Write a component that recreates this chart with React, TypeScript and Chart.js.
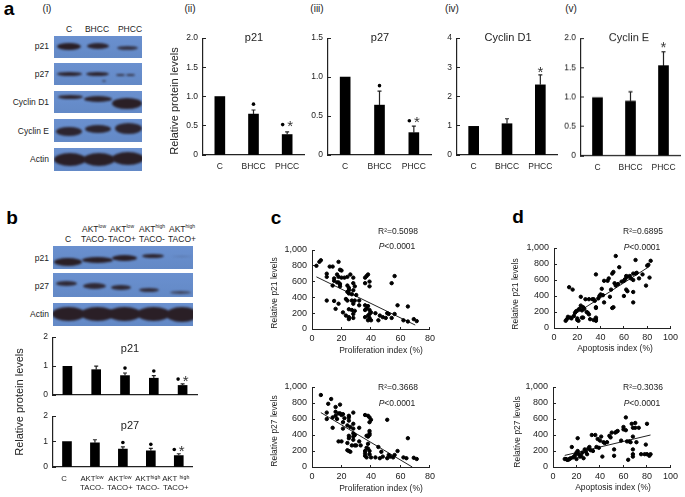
import React, { useEffect, useRef } from "react";
import { Chart, registerables } from "chart.js";

Chart.register(...registerables);

const FONT = "'Liberation Sans', Arial, sans-serif";
const INK = "#222";

// ---------- bar values ----------
const hccCategories = ["C", "BHCC", "PHCC"];
const p21Means = [1.0, 0.7, 0.35];
const p21Tops = [null, 0.77, 0.395];
const p21Dots = [null, 0.87, 0.52];
const p21Stars = [null, null, 0.53];
const p27Means = [1.0, 0.64, 0.287];
const p27Tops = [null, 0.82, 0.37];
const p27Dots = [null, 0.89, 0.44];
const p27Stars = [null, null, 0.44];
const cyclinD1Means = [0.98, 1.07, 2.4];
const cyclinD1Tops = [null, 1.24, 2.74];
const cyclinD1Stars = [null, null, 2.9];
const cyclinEMeans = [0.99, 0.93, 1.535];
const cyclinETops = [null, 1.09, 1.77];
const cyclinEStars = [null, null, 1.87];

const aktCategories = [
  "C",
  ["AKTˡᵒʷ", "TACO-"],
  ["AKTˡᵒʷ", "TACO+"],
  ["AKTʰⁱᵍʰ", "TACO-"],
  ["AKT ʰⁱᵍʰ", "TACO+"],
];
const aktP21Means = [0.99, 0.875, 0.67, 0.58, 0.33];
const aktP21Tops = [null, 1.0, 0.76, 0.67, 0.386];
const aktP21Dots = [null, null, 0.93, 0.83, 0.55];
const aktP21Stars = [null, null, null, null, 0.55];
const aktP27Means = [1.0, 0.95, 0.7, 0.64, 0.45];
const aktP27Tops = [null, 1.07, 0.79, 0.73, 0.52];
const aktP27Dots = [null, null, 0.96, 0.89, 0.69];
const aktP27Stars = [null, null, null, null, 0.7];

// ---------- scatter values ----------
const prolifP21: number[][] = [[3,800],[5,850],[6,870],[10,700],[10,660],[12,790],[14,790],[18,850],[19,750],[20,740],[17,690],[18,660],[20,650],[22,650],[24,660],[26,690],[28,650],[15,640],[15,610],[14,550],[17,590],[18,590],[19,570],[19,540],[24,550],[25,520],[25,490],[28,580],[29,540],[28,490],[24,470],[25,450],[27,440],[30,430],[10,360],[15,355],[18,320],[16,255],[21,210],[23,170],[25,150],[25,125],[28,140],[25,250],[27,240],[29,230],[28,190],[24,360],[23,380],[27,360],[29,360],[28,320],[32,360],[32,300],[36,300],[38,290],[37,260],[36,240],[39,240],[40,210],[39,190],[43,200],[38,170],[36,150],[39,140],[38,110],[40,110],[45,110],[46,170],[48,150],[50,140],[51,200],[52,190],[54,140],[56,190],[58,300],[65,285],[62,110],[65,95],[69,125],[71,100],[37,670],[38,690],[36,650],[36,580],[39,600],[39,540],[54,580],[56,670]];
const prolifP21Fit: number[][] = [[3,660],[70,50]];
const prolifP27: number[][] = [[6,900],[10,680],[10,600],[11,790],[13,850],[14,620],[14,490],[16,750],[16,690],[16,640],[17,600],[18,670],[18,320],[19,780],[19,670],[20,320],[20,650],[21,660],[21,560],[22,610],[21,480],[24,520],[24,300],[24,210],[25,640],[25,620],[25,580],[25,390],[25,360],[25,200],[26,190],[26,500],[27,270],[28,680],[28,540],[28,480],[28,420],[28,380],[28,340],[29,400],[29,270],[30,270],[32,320],[32,490],[33,270],[36,650],[37,390],[37,240],[36,200],[36,170],[36,140],[37,120],[38,640],[39,620],[40,590],[39,560],[39,450],[39,420],[39,400],[38,380],[38,290],[38,230],[39,200],[39,160],[40,120],[43,120],[45,250],[46,110],[47,190],[48,130],[51,590],[51,110],[52,150],[53,130],[55,120],[56,150],[58,200],[62,120],[64,110],[65,360],[69,115],[71,100]];
const prolifP27Fit: number[][] = [[6,680],[68,0]];
const apopP21: number[][] = [[10,90],[11,110],[12,140],[13,510],[14,130],[15,120],[16,480],[17,150],[18,190],[19,210],[20,120],[20,100],[21,230],[21,90],[22,240],[23,280],[23,390],[24,130],[24,220],[25,260],[26,240],[27,360],[28,200],[29,190],[30,170],[30,360],[31,110],[33,360],[34,100],[35,340],[36,670],[36,260],[36,130],[36,110],[36,90],[38,370],[39,400],[40,420],[41,490],[42,410],[43,590],[43,320],[46,590],[47,620],[48,390],[49,480],[50,680],[50,250],[51,700],[51,260],[53,900],[52,560],[53,530],[55,550],[56,760],[58,580],[60,400],[60,590],[61,610],[62,650],[62,480],[63,640],[63,460],[65,650],[66,620],[68,600],[68,680],[68,450],[68,320],[70,850],[70,680],[71,690],[73,620],[76,670],[79,530],[80,780],[81,790],[82,630],[83,840],[25,130],[34,360],[36,250]];
const apopP21Fit: number[][] = [[10,100],[82,770]];
const apopP27: number[][] = [[10,100],[11,100],[12,90],[13,90],[14,100],[15,110],[16,250],[17,120],[18,130],[19,150],[20,180],[20,100],[21,360],[21,200],[22,160],[23,130],[24,140],[25,180],[26,110],[27,220],[28,190],[29,160],[30,230],[31,250],[32,210],[33,400],[34,200],[36,400],[37,250],[38,350],[39,240],[40,330],[41,380],[42,130],[43,310],[44,300],[46,310],[48,390],[49,370],[50,430],[52,140],[52,220],[53,430],[54,440],[55,450],[58,330],[60,500],[60,470],[62,620],[62,460],[63,320],[64,90],[65,320],[66,310],[67,540],[68,490],[68,380],[68,220],[68,160],[68,130],[70,550],[70,490],[73,490],[71,310],[75,160],[78,160],[79,280],[80,540],[80,160],[82,140],[83,160]];
const apopP27Fit: number[][] = [[10,145],[83,400]];

type TextItem = { text: string; x: number; y: number; size: number; rotate?: boolean; italicPrefix?: string };
type Box = { l: number; t: number; r: number; b: number };
type Margin = { left: number; top: number; right: number; bottom: number };

// Draws error whiskers and significance marks at values through the scales, and free text labels.
const figurePlugin = {
  id: "figure",
  afterDraw(chart: any, _a: any, opts: any) {
    const { ctx } = chart;
    const xs = chart.scales.x;
    const ys = chart.scales.y;
    ctx.save();
    (opts.tops || []).forEach((v: number | null, i: number) => {
      if (v == null) return;
      const x = xs.getPixelForValue(i);
      const y0 = ys.getPixelForValue(opts.means[i]);
      const y1 = ys.getPixelForValue(v);
      ctx.strokeStyle = "#222";
      ctx.lineWidth = 1.2;
      ctx.beginPath();
      ctx.moveTo(x, y0);
      ctx.lineTo(x, y1);
      ctx.moveTo(x - 2, y1);
      ctx.lineTo(x + 2, y1);
      ctx.stroke();
    });
    const dots = opts.dots || [];
    const stars = opts.stars || [];
    dots.forEach((v: number | null, i: number) => {
      if (v == null) return;
      const both = stars[i] != null;
      ctx.fillStyle = "#000";
      ctx.beginPath();
      ctx.arc(xs.getPixelForValue(i) - (both ? 4.5 : 0), ys.getPixelForValue(v), 1.8, 0, Math.PI * 2);
      ctx.fill();
    });
    stars.forEach((v: number | null, i: number) => {
      if (v == null) return;
      const both = dots[i] != null;
      ctx.fillStyle = "#333";
      ctx.font = `15px ${FONT}`;
      ctx.textAlign = "center";
      ctx.textBaseline = "middle";
      ctx.fillText("*", xs.getPixelForValue(i) + (both ? 3 : 0), ys.getPixelForValue(v) + 2.5);
    });
    const ox = opts.originX;
    const oy = opts.originY;
    (opts.texts || []).forEach((t: TextItem) => {
      ctx.save();
      ctx.translate(t.x - ox, t.y - oy);
      if (t.rotate) ctx.rotate(-Math.PI / 2);
      ctx.fillStyle = INK;
      ctx.textBaseline = "middle";
      if (t.italicPrefix) {
        ctx.font = `italic ${t.size}px ${FONT}`;
        const w1 = ctx.measureText(t.italicPrefix).width;
        ctx.font = `${t.size}px ${FONT}`;
        const w2 = ctx.measureText(t.text).width;
        ctx.textAlign = "left";
        ctx.font = `italic ${t.size}px ${FONT}`;
        ctx.fillText(t.italicPrefix, -(w1 + w2) / 2, 0);
        ctx.font = `${t.size}px ${FONT}`;
        ctx.fillText(t.text, -(w1 + w2) / 2 + w1, 0);
      } else {
        ctx.font = `${t.size}px ${FONT}`;
        ctx.textAlign = "center";
        ctx.fillText(t.text, 0, 0);
      }
      ctx.restore();
    });
    ctx.restore();
  },
};

function axisBase(m: Margin, key: "x" | "y") {
  return {
    afterFit(scale: any) {
      if (key === "y") scale.width = m.left;
      else scale.height = m.bottom;
    },
  };
}

type BarCfg = {
  box: Box;
  margin: Margin;
  labels: any[];
  means: number[];
  tops: (number | null)[];
  dots?: (number | null)[];
  stars?: (number | null)[];
  yMax: number;
  yStep: number;
  decimals: number;
  barWidth: number;
  tickSize: number;
  xTickSize?: number;
  xLabelOffset?: number;
  showX: boolean;
  xPad: number;
  texts: TextItem[];
};

type ScatterCfg = {
  box: Box;
  margin: Margin;
  points: number[][];
  fit: number[][];
  xMax: number;
  xStep: number;
  texts: TextItem[];
};

function useChart(box: Box, margin: Margin, build: () => any) {
  const ref = useRef<HTMLCanvasElement>(null);
  useEffect(() => {
    const chart = new Chart(ref.current as HTMLCanvasElement, build());
    return () => chart.destroy();
  }, []);
  const w = box.r - box.l + margin.left + margin.right;
  const h = box.b - box.t + margin.top + margin.bottom;
  return (
    <canvas
      ref={ref}
      width={w}
      height={h}
      style={{ position: "absolute", left: box.l - margin.left, top: box.t - margin.top, width: w, height: h }}
    />
  );
}

function BarPanel({ cfg }: { cfg: BarCfg }) {
  const { box, margin: m } = cfg;
  return useChart(box, m, () => ({
    type: "bar",
    data: {
      labels: cfg.labels,
      datasets: [{ data: cfg.means, backgroundColor: "#000", barThickness: cfg.barWidth }],
    },
    plugins: [figurePlugin],
    options: {
      animation: false,
      responsive: false,
      devicePixelRatio: 1,
      layout: { padding: { left: 0, top: m.top, right: m.right, bottom: 0 } },
      plugins: {
        legend: { display: false },
        tooltip: { enabled: false },
        figure: {
          means: cfg.means,
          tops: cfg.tops,
          dots: cfg.dots,
          stars: cfg.stars,
          texts: cfg.texts,
          originX: box.l - m.left,
          originY: box.t - m.top,
        },
      },
      scales: {
        x: {
          ...axisBase(m, "x"),
          grid: { drawOnChartArea: false, drawTicks: false },
          border: { color: INK, width: 1.2 },
          ticks: {
            display: cfg.showX,
            color: INK,
            padding: cfg.xPad,
            maxRotation: 0,
            autoSkip: false,
            labelOffset: cfg.xLabelOffset || 0,
            font: { family: FONT, size: cfg.xTickSize || cfg.tickSize, lineHeight: 1.1 },
          },
        },
        y: {
          ...axisBase(m, "y"),
          min: 0,
          max: cfg.yMax,
          grid: { drawOnChartArea: false, tickLength: -3, color: INK },
          border: { color: INK, width: 1.2 },
          ticks: {
            stepSize: cfg.yStep,
            color: INK,
            padding: 8,
            font: { family: FONT, size: cfg.tickSize },
            callback: (v: number) => (v === 0 ? "0" : v.toFixed(cfg.decimals)),
          },
        },
      },
    },
  }));
}

function ScatterPanel({ cfg }: { cfg: ScatterCfg }) {
  const { box, margin: m } = cfg;
  const toXY = (a: number[][]) => a.map(([x, y]) => ({ x, y }));
  return useChart(box, m, () => ({
    type: "scatter",
    data: {
      datasets: [
        { data: toXY(cfg.points), backgroundColor: "#000", borderColor: "#000", pointRadius: 1.7 },
        { data: toXY(cfg.fit), showLine: true, borderColor: "#222", borderWidth: 1, pointRadius: 0 },
      ],
    },
    plugins: [figurePlugin],
    options: {
      animation: false,
      responsive: false,
      devicePixelRatio: 1,
      layout: { padding: { left: 0, top: m.top, right: m.right, bottom: 0 } },
      plugins: {
        legend: { display: false },
        tooltip: { enabled: false },
        figure: { texts: cfg.texts, originX: box.l - m.left, originY: box.t - m.top },
      },
      scales: {
        x: {
          ...axisBase(m, "x"),
          type: "linear",
          min: 0,
          max: cfg.xMax,
          grid: { drawOnChartArea: false, tickLength: -2, color: INK },
          border: { color: INK, width: 1 },
          ticks: { stepSize: cfg.xStep, color: INK, padding: 6, maxRotation: 0, font: { family: FONT, size: 9 } },
        },
        y: {
          ...axisBase(m, "y"),
          min: 0,
          max: 1000,
          grid: { drawOnChartArea: false, tickLength: -3, color: INK },
          border: { color: INK, width: 1 },
          ticks: {
            stepSize: 200,
            color: INK,
            padding: 8,
            font: { family: FONT, size: 9 },
            callback: (v: number) => v.toLocaleString("en-US"),
          },
        },
      },
    },
  }));
}

function Label({ x, y, size = 8.5, align = "center", bold, children }: any) {
  const tx = align === "center" ? "-50%" : align === "right" ? "-100%" : "0";
  return (
    <div
      style={{
        position: "absolute",
        left: x,
        top: y,
        transform: `translate(${tx}, -50%)`,
        font: `${bold ? "bold " : ""}${size}px ${FONT}`,
        color: bold ? "#000" : INK,
        whiteSpace: "nowrap",
        lineHeight: 1,
      }}
    >
      {children}
    </div>
  );
}

// Blot band: [centre x, centre y, width, height, opacity]
function Blot({ x0, x1, y0, y1, bands }: { x0: number; x1: number; y0: number; y1: number; bands: number[][] }) {
  return (
    <div
      style={{
        position: "absolute",
        left: x0,
        top: y0,
        width: x1 - x0,
        height: y1 - y0,
        overflow: "hidden",
        background: "linear-gradient(180deg,#6a90cf,#6389c6)",
      }}
    >
      {bands.map(([cx, cy, w, h, o], i) => (
        <div
          key={i}
          style={{
            position: "absolute",
            left: cx - w / 2 - x0,
            top: cy - h / 2 - y0,
            width: w,
            height: h,
            borderRadius: "50%",
            background: "#2a1f26",
            opacity: o,
            filter: "blur(1px)",
          }}
        />
      ))}
    </div>
  );
}

const M_A: Margin = { left: 38, top: 8, right: 6, bottom: 22 };
const M_S: Margin = { left: 45, top: 26, right: 8, bottom: 30 };

const aP21: BarCfg = { box: { l: 203, t: 33, r: 304, b: 155 }, margin: M_A, labels: hccCategories, means: p21Means, tops: p21Tops, dots: p21Dots, stars: p21Stars, yMax: 2, yStep: 0.5, decimals: 1, barWidth: 10, tickSize: 8.5, showX: true, xPad: 7, texts: [{ text: "p21", x: 254, y: 38, size: 11 }, { text: "Relative protein levels", x: 175, y: 101, size: 11, rotate: true }] };
const aP27: BarCfg = { box: { l: 328, t: 33, r: 431, b: 155 }, margin: M_A, labels: hccCategories, means: p27Means, tops: p27Tops, dots: p27Dots, stars: p27Stars, yMax: 1.5, yStep: 0.5, decimals: 1, barWidth: 10, tickSize: 8.5, showX: true, xPad: 7, texts: [{ text: "p27", x: 380, y: 38, size: 11 }] };
const aD1: BarCfg = { box: { l: 457, t: 33, r: 557, b: 155 }, margin: M_A, labels: hccCategories, means: cyclinD1Means, tops: cyclinD1Tops, stars: cyclinD1Stars, yMax: 4, yStep: 1, decimals: 0, barWidth: 10, tickSize: 8.5, showX: true, xPad: 7, texts: [{ text: "Cyclin D1", x: 508, y: 38, size: 11 }] };
const aE: BarCfg = { box: { l: 581, t: 33, r: 680, b: 155.5 }, margin: { ...M_A, right: 5 }, labels: hccCategories, means: cyclinEMeans, tops: cyclinETops, stars: cyclinEStars, yMax: 2, yStep: 0.5, decimals: 1, barWidth: 10, tickSize: 8.5, showX: true, xPad: 7, texts: [{ text: "Cyclin E", x: 629, y: 38, size: 11 }] };
const bP21: BarCfg = { box: { l: 53, t: 336, r: 197, b: 395 }, margin: { left: 40, top: 12, right: 6, bottom: 70 }, labels: aktCategories, means: aktP21Means, tops: aktP21Tops, dots: aktP21Dots, stars: aktP21Stars, yMax: 2, yStep: 1, decimals: 0, barWidth: 9, tickSize: 8.5, showX: false, xPad: 7, texts: [{ text: "p21", x: 130, y: 349, size: 11 }, { text: "Relative protein levels", x: 20, y: 402, size: 11, rotate: true }] };
const bP27: BarCfg = { box: { l: 53, t: 411, r: 195, b: 467 }, margin: { left: 40, top: 8, right: 6, bottom: 30 }, labels: aktCategories, means: aktP27Means, tops: aktP27Tops, dots: aktP27Dots, stars: aktP27Stars, yMax: 2, yStep: 1, decimals: 0, barWidth: 9, tickSize: 8.5, xTickSize: 7.8, xLabelOffset: -3, showX: true, xPad: 8, texts: [{ text: "p27", x: 130, y: 426, size: 11 }] };

const cTop: ScatterCfg = { box: { l: 312, t: 250, r: 433, b: 329 }, margin: M_S, points: prolifP21, fit: prolifP21Fit, xMax: 80, xStep: 20, texts: [{ text: "R²=0.5098", x: 398, y: 232, size: 8.5 }, { text: "<0.0001", italicPrefix: "P", x: 397, y: 247, size: 8.5 }, { text: "Relative p21 levels", x: 275, y: 293, size: 8.5, rotate: true }, { text: "Proliferation index (%)", x: 381, y: 351, size: 8.5 }] };
const cBot: ScatterCfg = { box: { l: 312, t: 387, r: 433, b: 467 }, margin: M_S, points: prolifP27, fit: prolifP27Fit, xMax: 80, xStep: 20, texts: [{ text: "R²=0.3668", x: 398, y: 388, size: 8.5 }, { text: "<0.0001", italicPrefix: "P", x: 397, y: 404, size: 8.5 }, { text: "Relative p27 levels", x: 275, y: 431, size: 8.5, rotate: true }, { text: "Proliferation index (%)", x: 381, y: 489, size: 8.5 }] };
const dTop: ScatterCfg = { box: { l: 554, t: 248, r: 674, b: 328 }, margin: { ...M_S, right: 10 }, points: apopP21, fit: apopP21Fit, xMax: 100, xStep: 20, texts: [{ text: "R²=0.6895", x: 643, y: 232, size: 8.5 }, { text: "<0.0001", italicPrefix: "P", x: 642, y: 248, size: 8.5 }, { text: "Relative p21 levels", x: 516, y: 294, size: 8.5, rotate: true }, { text: "Apoptosis index (%)", x: 615, y: 349, size: 8.5 }] };
const dBot: ScatterCfg = { box: { l: 553, t: 387, r: 672, b: 467 }, margin: { ...M_S, right: 12 }, points: apopP27, fit: apopP27Fit, xMax: 100, xStep: 20, texts: [{ text: "R²=0.3036", x: 643, y: 388, size: 8.5 }, { text: "<0.0001", italicPrefix: "P", x: 642, y: 404, size: 8.5 }, { text: "Relative p27 levels", x: 518, y: 432, size: 8.5, rotate: true }, { text: "Apoptosis index (%)", x: 613, y: 488, size: 8.5 }] };

export default function App() {
  return (
    <div style={{ position: "absolute", left: 0, top: 0, width: 685, height: 497, overflow: "hidden", background: "#fff", filter: "blur(0.3px)" }}>
      <Label x={9} y={8} size={19} bold>a</Label>
      <Label x={12} y={217} size={19} bold>b</Label>
      <Label x={276} y={217} size={19} bold>c</Label>
      <Label x={518} y={216} size={19} bold>d</Label>
      <Label x={47} y={9} size={10}>(i)</Label>
      <Label x={190} y={9} size={10}>(ii)</Label>
      <Label x={317} y={9} size={10}>(iii)</Label>
      <Label x={452} y={9} size={10}>(iv)</Label>
      <Label x={571} y={9} size={10}>(v)</Label>

      <Label x={69} y={29}>C</Label>
      <Label x={97} y={29}>BHCC</Label>
      <Label x={130} y={29}>PHCC</Label>
      <Label x={49} y={46} align="right">p21</Label>
      <Label x={49} y={74} align="right">p27</Label>
      <Label x={49} y={102} align="right">Cyclin D1</Label>
      <Label x={49} y={131} align="right">Cyclin E</Label>
      <Label x={49} y={159} align="right">Actin</Label>
      <Blot x0={54} x1={142} y0={36} y1={58} bands={[[69,46,24,7,1],[98,46,22,6,.95],[127,48,21,4,.8]]} />
      <Blot x0={54} x1={142} y0={63} y1={85} bands={[[69,73.5,25,4,.95],[97,74,23,4,.95],[104,81,4,2,.6],[120,75,9,2,.8],[130,75,9,2,.8]]} />
      <Blot x0={54} x1={142} y0={91} y1={113} bands={[[70,97,25,4,.95],[98,99,28,6,.95],[127,103,30,11,1]]} />
      <Blot x0={54} x1={142} y0={119} y1={142} bands={[[69,131,26,9,.95],[98,129,26,8,.95],[128,128,27,11,.95]]} />
      <Blot x0={54} x1={142} y0={148} y1={171} bands={[[70,159,32,13,1],[99,159,32,13,1],[128,158,32,13,1]]} />

      <BarPanel cfg={aP21} />
      <BarPanel cfg={aP27} />
      <BarPanel cfg={aD1} />
      <BarPanel cfg={aE} />

      <Label x={68} y={239}>C</Label>
      <Label x={94} y={229}>AKT<sup style={{ fontSize: 5 }}>low</sup></Label>
      <Label x={94} y={239}>TACO-</Label>
      <Label x={122} y={229}>AKT<sup style={{ fontSize: 5 }}>low</sup></Label>
      <Label x={122} y={239}>TACO+</Label>
      <Label x={152} y={229}>AKT<sup style={{ fontSize: 5 }}>high</sup></Label>
      <Label x={152} y={239}>TACO-</Label>
      <Label x={182} y={229}>AKT<sup style={{ fontSize: 5 }}>high</sup></Label>
      <Label x={182} y={239}>TACO+</Label>
      <Label x={49} y={258} align="right">p21</Label>
      <Label x={49} y={286} align="right">p27</Label>
      <Label x={49} y={314} align="right">Actin</Label>
      <Blot x0={53} x1={193} y0={246} y1={269} bands={[[68,262,28,8,1],[97,260,31,6,1],[124,258,25,6,1],[153,256,22,4,.95],[182,256,20,1,.25]]} />
      <Blot x0={53} x1={193} y0={273} y1={297} bands={[[66,283,21,5,.9],[94,286,23,6,.9],[121,287,20,5,.9],[149,290,20,4,.85],[180,292,21,3,.65]]} />
      <Blot x0={53} x1={193} y0={303} y1={326} bands={[[68,314,33,14,1],[97,314,33,14,1],[124,314,33,14,1],[153,314,33,14,1],[182,314,32,15,1]]} />

      <BarPanel cfg={bP21} />
      <BarPanel cfg={bP27} />
      <ScatterPanel cfg={cTop} />
      <ScatterPanel cfg={cBot} />
      <ScatterPanel cfg={dTop} />
      <ScatterPanel cfg={dBot} />
    </div>
  );
}
